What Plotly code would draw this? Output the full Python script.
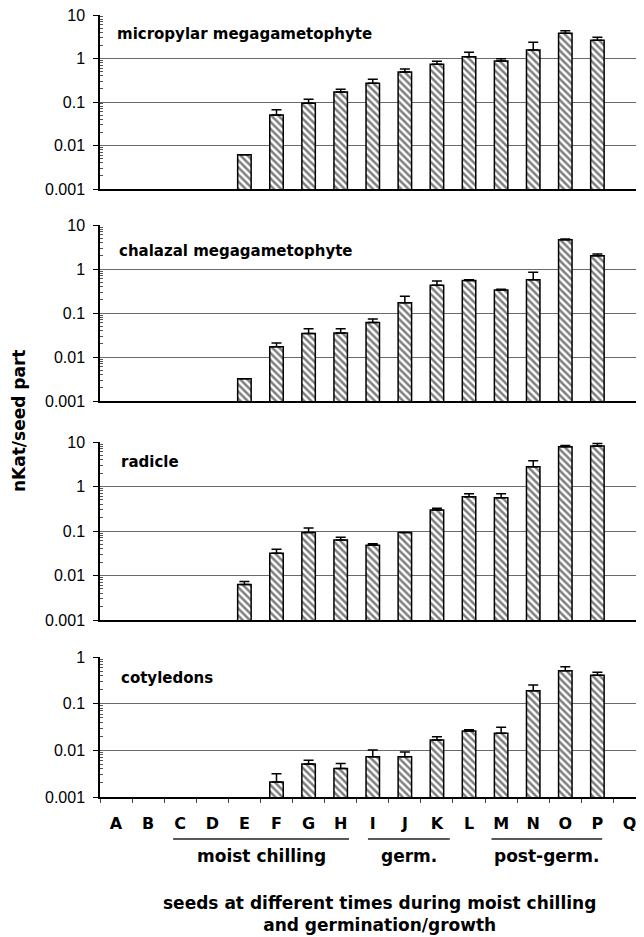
import plotly.graph_objects as go
from plotly.subplots import make_subplots

# ---------------- data ----------------
categories = ["A", "B", "C", "D", "E", "F", "G", "H", "I", "J", "K", "L", "M", "N", "O", "P", "Q"]

panel_titles = ["micropylar megagametophyte", "chalazal megagametophyte", "radicle", "cotyledons"]

micropylar = [None, None, None, None, 0.0061, 0.050, 0.093, 0.17, 0.27, 0.49, 0.74, 1.10, 0.88, 1.57, 3.8, 2.62, None]
micropylar_err_top = [None, None, None, None, None, 0.066, 0.115, 0.196, 0.333, 0.574, 0.86, 1.39, 0.99, 2.36, 4.36, 3.07, None]

chalazal = [None, None, None, None, 0.0032, 0.0172, 0.034, 0.035, 0.061, 0.172, 0.43, 0.55, 0.333, 0.57, 4.64, 2.01, None]
chalazal_err_top = [None, None, None, None, None, 0.0208, 0.044, 0.044, 0.073, 0.239, 0.533, 0.57, 0.345, 0.84, 4.8, 2.19, None]

radicle = [None, None, None, None, 0.0063, 0.0315, 0.093, 0.063, 0.048, 0.093, 0.296, 0.59, 0.56, 2.79, 7.85, 8.1, None]
radicle_err_top = [None, None, None, None, 0.0073, 0.0388, 0.117, 0.072, 0.052, None, 0.324, 0.689, 0.689, 3.8, 8.3, 9.2, None]

cotyledons = [None, None, None, None, None, 0.0021, 0.0051, 0.0041, 0.0073, 0.0073, 0.0167, 0.026, 0.0232, 0.19, 0.51, 0.405, None]
cotyledons_err_top = [None, None, None, None, None, 0.00313, 0.00614, 0.0052, 0.0102, 0.0092, 0.0196, 0.0275, 0.0313, 0.251, 0.62, 0.47, None]

y_tickvals = [0.001, 0.01, 0.1, 1, 10]
y_ticktext = ["0.001", "0.01", "0.1", "1", "10"]
y_ranges_log = [[-3, 1], [-3, 1], [-3, 1], [-3, 0]]

group_labels = ["moist chilling", "germ.", "post-germ."]
group_spans = [("C", "H"), ("I", "K"), ("M", "P")]

y_title = "nKat/seed part"
x_title = "seeds at different times during moist chilling<br>and germination/growth"

# ---------------- geometry (screen pixels; page body has an 8px margin) ----------------
OFF = 8
W, H = 644 - OFF, 937 - OFF
PLOT_L_SCREEN = 100
PLOT_L = PLOT_L_SCREEN - OFF
PLOT_W = W - PLOT_L
CAT_PX = 32.09


def py(sy):
    return 1 - (sy - OFF) / H


def px(sx):
    return (sx - PLOT_L_SCREEN) / PLOT_W


series = [(micropylar, micropylar_err_top), (chalazal, chalazal_err_top),
          (radicle, radicle_err_top), (cotyledons, cotyledons_err_top)]

fig = make_subplots(rows=4, cols=1, shared_xaxes=True, vertical_spacing=0.02)

for i, (vals, tops) in enumerate(series):
    err = [(t - v) if (t is not None and v is not None) else 0 for v, t in zip(vals, tops)]
    fig.add_trace(go.Bar(
        x=categories, y=vals, width=0.42,
        marker=dict(color="white", line=dict(color="black", width=1.5),
                    pattern=dict(shape="\\", fgcolor="black", bgcolor="white",
                                 size=5, solidity=0.5)),
        error_y=dict(type="data", array=err, arrayminus=[0] * len(err), symmetric=False,
                     color="black", thickness=1.5, width=5),
        showlegend=False, hoverinfo="skip"), row=i + 1, col=1)

panel_pix = [(15, 189), (225, 401), (442, 620), (657, 797)]
minor_vals = [m * 10 ** e for e in range(-3, 1) for m in range(2, 10)]
x_end = -0.5 + PLOT_W / CAT_PX

for i in range(4):
    top, bot = panel_pix[i]
    yname = "yaxis" if i == 0 else f"yaxis{i+1}"
    xname = "xaxis" if i == 0 else f"xaxis{i+1}"
    fig.layout[yname].update(
        domain=[py(bot), py(top)], type="log", range=y_ranges_log[i], automargin=False,
        tickmode="array", tickvals=y_tickvals, ticktext=y_ticktext,
        ticks="outside", ticklen=5, tickwidth=1, tickcolor="black",
        showline=True, linecolor="black", linewidth=1.5,
        showgrid=True, gridcolor="#6a6a6a", gridwidth=1,
        zeroline=False, ticklabelstandoff=5, ticklabeloverflow="allow",
        tickfont=dict(family="Liberation Sans, Arial", size=16, color="black"),
        minor=dict(tickvals=minor_vals, ticks="inside", ticklen=3, tickcolor="#555", showgrid=False),
    )
    fig.layout[xname].update(
        range=[-0.5, x_end], automargin=False,
        showline=True, linecolor="black", linewidth=1.5,
        showgrid=False, zeroline=False, showticklabels=(i == 3),
        ticks="outside" if i == 3 else "", tickson="boundaries", ticklen=4, tickcolor="#444",
        tickfont=dict(family="DejaVu Sans", size=16, color="black", weight="bold"),
        ticklabelstandoff=11, ticklabeloverflow="allow",
    )

annotations = []
title_pos = [(115, 34), (117, 251), (119, 462), (119, 678)]
for t, (xp, yp) in zip(panel_titles, title_pos):
    annotations.append(dict(text=t, xref="paper", yref="paper", x=px(xp), y=py(yp),
                            xanchor="left", yanchor="middle", showarrow=False,
                            font=dict(family="DejaVu Sans", size=15, color="black", weight="bold")))

# group lines + labels
cat_idx = {c: k for k, c in enumerate(categories)}
line_pad = [(-0.22, 0.26), (-0.15, 0.4), (-0.3, 0.15)]
shapes = []
for (a, b), lab, (pa, pb) in zip(group_spans, group_labels, line_pad):
    x0 = cat_idx[a] + pa
    x1 = cat_idx[b] + pb
    shapes.append(dict(type="line", xref="x4", yref="paper", x0=x0, x1=x1,
                       y0=py(839), y1=py(839), line=dict(color="#222", width=1.5)))
    annotations.append(dict(text=lab, xref="x4", yref="paper", x=(x0 + x1) / 2, y=py(856),
                            xanchor="center", yanchor="middle", showarrow=False,
                            font=dict(family="DejaVu Sans", size=17, color="black", weight="bold")))

annotations.append(dict(text=x_title, xref="paper", yref="paper", x=px(379), y=py(914),
                        xanchor="center", yanchor="middle", showarrow=False,
                        font=dict(family="DejaVu Sans", size=17, color="black", weight="bold")))
annotations.append(dict(text=y_title, xref="paper", yref="paper", x=px(19), y=py(421),
                        xanchor="center", yanchor="middle", showarrow=False, textangle=-90,
                        font=dict(family="DejaVu Sans", size=17, color="black", weight="bold")))

fig.update_layout(
    width=W, height=H, margin=dict(l=PLOT_L, r=0, t=0, b=0, autoexpand=False),
    paper_bgcolor="white", plot_bgcolor="white",
    bargap=0.5, annotations=annotations, shapes=shapes,
)

fig.write_html("out.html")
